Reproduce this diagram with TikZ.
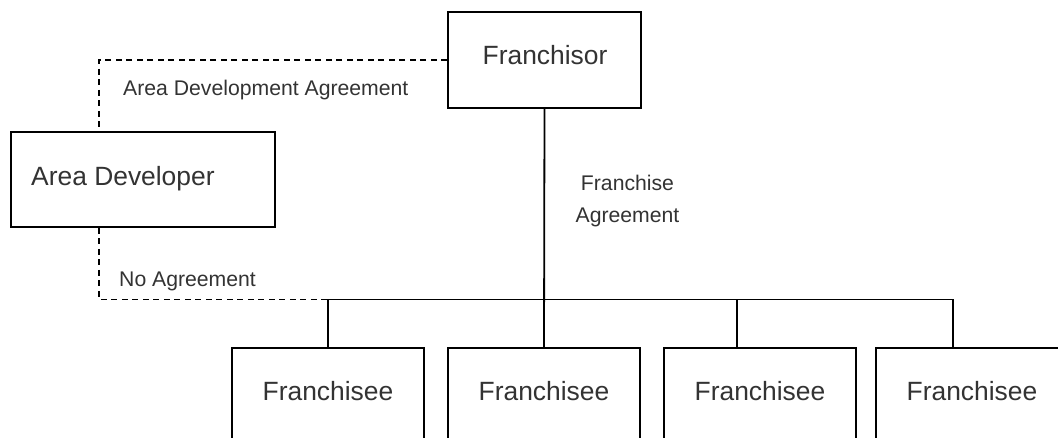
\documentclass[tikz,border=0pt]{standalone}
\usepackage{fontspec}
\setmainfont{Liberation Sans}
\definecolor{txt}{HTML}{333333}
\tikzset{
  box/.style={draw=black, line width=1.8pt, rectangle, inner sep=0pt, fill=white},
  bigtext/.style={text=txt, inner sep=0pt, font=\fontsize{26.4}{30}\selectfont},
  smalltext/.style={text=txt, inner sep=0pt, font=\fontsize{21.2}{31}\selectfont},
  solidline/.style={draw=black, line width=1.8pt},
  dashline/.style={draw=black, line width=1.8pt, dash pattern=on 6pt off 4.5pt}
}
\begin{document}
\begin{tikzpicture}[x=1pt,y=-1pt]
\clip (0,0) rectangle (1058,438);
\fill[white] (0,0) rectangle (1058,438);

% boxes
\node[box, minimum width=193pt, minimum height=96pt] (fr) at (544.5,60) {};
\node[box, minimum width=264pt, minimum height=95pt] (ad) at (143,179.5) {};
\node[box, minimum width=192pt, minimum height=98pt] (f1) at (328,397) {};
\node[box, minimum width=192pt, minimum height=98pt] (f2) at (544,397) {};
\node[box, minimum width=192pt, minimum height=98pt] (f3) at (760,397) {};
\node[box, minimum width=192pt, minimum height=98pt] (f4) at (972,397) {};

% box texts
\node[bigtext, anchor=base] (frt) at (545,64.5) {Franchisor};
\node[bigtext, anchor=base west] (adt) at (31,185.5) {Area Developer};
\node[bigtext, anchor=base] (f1t) at (328,400.5) {Franchisee};
\node[bigtext, anchor=base] (f2t) at (544,400.5) {Franchisee};
\node[bigtext, anchor=base] (f3t) at (760,400.5) {Franchisee};
\node[bigtext, anchor=base] (f4t) at (972,400.5) {Franchisee};

% labels
\node[smalltext, anchor=base west] (ada) at (123,95.6) {Area Development Agreement};
\node[smalltext, anchor=base west] (noa) at (119,287) {No Agreement};
\node[smalltext, anchor=base] (fa1) at (627.5,191) {Franchise};
\node[smalltext, anchor=base] (fa2) at (627.5,223) {Agreement};

% connector points
\coordinate (adx) at (99,179.5);
\coordinate (j1) at (328,299.5);
\coordinate (j3) at (737,299.5);
\coordinate (j4) at (953,299.5);

% dashed connectors
\draw[dashline] (fr.west) -| (adx |- ad.north);
\draw[dashline] (adx |- ad.south) |- (j1);

% solid connectors
\draw[solidline] (fr.south) -- (f2.north);
\draw[solidline] (j1) -- (j4);
\draw[solidline] (j1) -- (f1.north);
\draw[solidline] (j3) -- (j3 |- f3.north);
\draw[solidline] (j4) -- (j4 |- f4.north);
\end{tikzpicture}
\end{document}
